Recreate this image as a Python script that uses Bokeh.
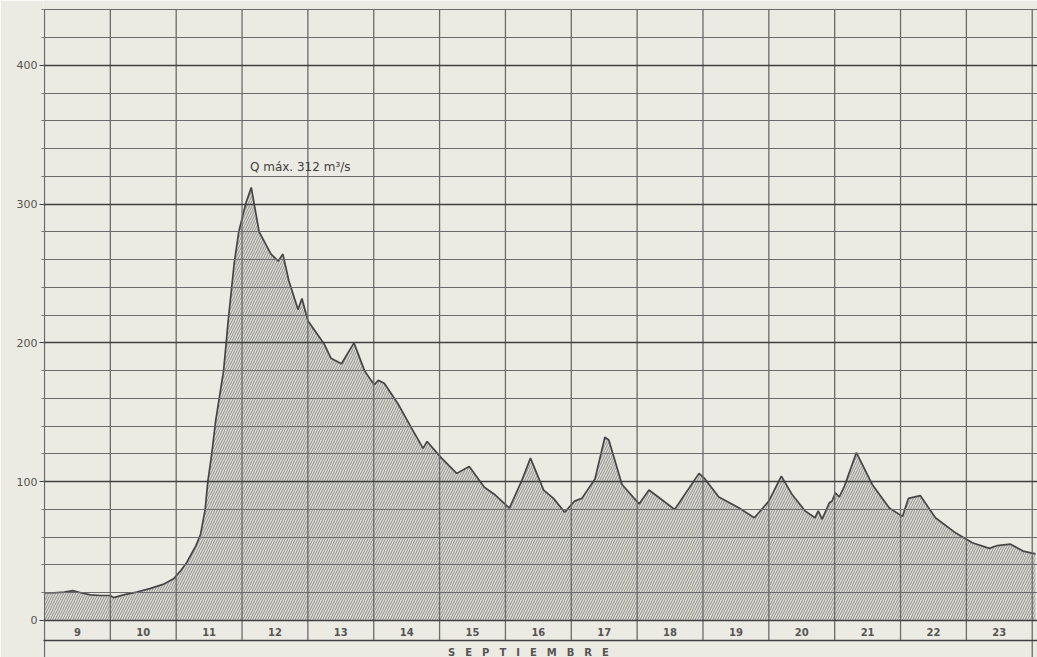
import numpy as np
from bokeh.plotting import figure
from bokeh.models import Range1d, FixedTicker, Grid, ColumnDataSource
from bokeh.embed import file_html
from bokeh.resources import INLINE
from bokeh.core.properties import value

time_days = [9.00, 9.15, 9.30, 9.43, 9.55, 9.70, 9.85, 10.00, 10.05, 10.20, 10.40, 10.60,
             10.80, 10.96, 11.07, 11.15, 11.22, 11.30, 11.37, 11.44, 11.48, 11.54, 11.60,
             11.66, 11.72, 11.79, 11.88, 11.95, 12.06, 12.14, 12.26, 12.44, 12.55, 12.62,
             12.71, 12.85, 12.91, 13.00, 13.25, 13.35, 13.51, 13.70, 13.86, 13.96, 14.01,
             14.07, 14.16, 14.37, 14.57, 14.75, 14.81, 15.03, 15.26, 15.45, 15.68, 15.83,
             16.06, 16.25, 16.38, 16.58, 16.73, 16.90, 17.05, 17.16, 17.36, 17.51, 17.57,
             17.77, 18.03, 18.18, 18.57, 18.94, 19.03, 19.24, 19.55, 19.78, 20.00, 20.19,
             20.35, 20.55, 20.70, 20.75, 20.81, 20.92, 20.96, 21.01, 21.07, 21.15, 21.33,
             21.57, 21.83, 22.03, 22.12, 22.30, 22.53, 22.84, 23.09, 23.35, 23.47, 23.67,
             23.86, 24.05]
discharge = [20, 20, 20.5, 21.5, 20, 18.5, 18, 18, 16.5, 18.5, 20.5, 23,
             26, 30, 36, 41, 47, 54, 62, 80, 100, 120, 144,
             162, 180, 216, 257, 280, 301, 312, 280, 264, 259, 264,
             245, 224, 232, 216, 199, 189, 185, 200, 180, 173, 170,
             173, 171, 156, 139, 124, 129, 117, 106, 111, 96, 91,
             81, 101, 117, 94, 88, 78, 86, 88, 102, 132, 130,
             98, 84, 94, 80, 106, 102, 89, 81, 74, 86, 104,
             91, 79, 74, 79, 73, 85, 86, 92, 89, 97, 121,
             98, 81, 75, 88, 90, 74, 63, 56, 52, 54, 55,
             50, 48]
day_numbers = [9, 10, 11, 12, 13, 14, 15, 16, 17, 18, 19, 20, 21, 22, 23]
y_tick_values = [0, 100, 200, 300, 400]
y_minor_values = [20, 40, 60, 80, 120, 140, 160, 180, 220, 240, 260, 280,
                  320, 340, 360, 380, 420, 440]
month_name = "SEPTIEMBRE"

# ---------------- styling / layout ----------------
PAPER = "#ecebe3"
GRID = "#6b6b6b"
Y_TOP, Y_BOTTOM = 446.7, -26.66
BAND_BOTTOM = -14.4
LABEL_Y = -8.6
MONTH_Y = -23.0

p = figure(width=1037, height=657, output_backend="svg", toolbar_location=None,
           x_range=Range1d(8.985, 24.08), y_range=Range1d(Y_BOTTOM, Y_TOP),
           x_axis_location=None, title=None,
           min_border_left=43, min_border_right=0, min_border_top=0, min_border_bottom=0,
           background_fill_color=PAPER, border_fill_color=PAPER, outline_line_color=None)

# hatched area under the hydrograph
src = ColumnDataSource(dict(t=time_days, q=discharge, z=[0] * len(time_days)))
p.varea(x="t", y1="z", y2="q", source=src, fill_color="#dcdcd4",
        hatch_pattern="/", hatch_color="#7a7a7a", hatch_weight=0.8, hatch_scale=5)
p.line(x="t", y="q", source=src, line_color="#454545", line_width=1.7)

# horizontal grid lines (drawn over the fill)
p.ygrid.ticker = FixedTicker(ticks=y_minor_values)
p.ygrid.grid_line_color = GRID
p.ygrid.grid_line_width = 1.1
p.ygrid.level = "overlay"
major_grid = Grid(dimension=1, ticker=FixedTicker(ticks=y_tick_values + [BAND_BOTTOM]),
                  grid_line_color="#3f3f3f", grid_line_width=1.6, level="overlay")
p.add_layout(major_grid)
p.xgrid.visible = False

# vertical day boundaries
bounds = np.arange(day_numbers[0], day_numbers[-1] + 2)
y0 = np.where((bounds == bounds[0]) | (bounds == bounds[-1]), Y_BOTTOM, BAND_BOTTOM)
p.segment(x0=bounds, y0=y0, x1=bounds, y1=np.full(len(bounds), 440.0),
          line_color=GRID, line_width=1.3)

# day labels in the band under zero
p.text(x=[d + 0.5 for d in day_numbers], y=[LABEL_Y] * len(day_numbers),
       text=[str(d) for d in day_numbers], text_align="center", text_baseline="middle",
       text_font=value("DejaVu Sans"), text_font_size="10px", text_font_style="bold",
       text_color="#555555")

# month name
mid = 16.5 - 0.15
p.text(x=[mid], y=[MONTH_Y], text=["\u2003".join(month_name)],
       text_align="center", text_baseline="middle",
       text_font=value("DejaVu Sans"), text_font_size="10px", text_font_style="bold",
       text_color="#555555")

# peak annotation
i_max = int(np.argmax(discharge))
p.text(x=[time_days[i_max] - 0.02], y=[326.5],
       text=[f"Q máx. {discharge[i_max]:.0f} m³/s"], text_align="left",
       text_baseline="middle", text_font=value("DejaVu Sans"), text_font_size="12px",
       text_color="#404040")

# y axis
ax = p.yaxis[0]
ax.ticker = FixedTicker(ticks=y_tick_values, minor_ticks=y_minor_values)
ax.axis_line_color = None
ax.major_tick_in = 0
ax.major_tick_out = 4
ax.minor_tick_in = 0
ax.minor_tick_out = 2
ax.major_tick_line_color = "#3f3f3f"
ax.minor_tick_line_color = GRID
ax.major_label_standoff = 2
ax.major_label_text_font = "DejaVu Sans"
ax.major_label_text_font_size = "11px"
ax.major_label_text_color = "#555555"

open("out.html", "w").write(file_html(p, INLINE))
